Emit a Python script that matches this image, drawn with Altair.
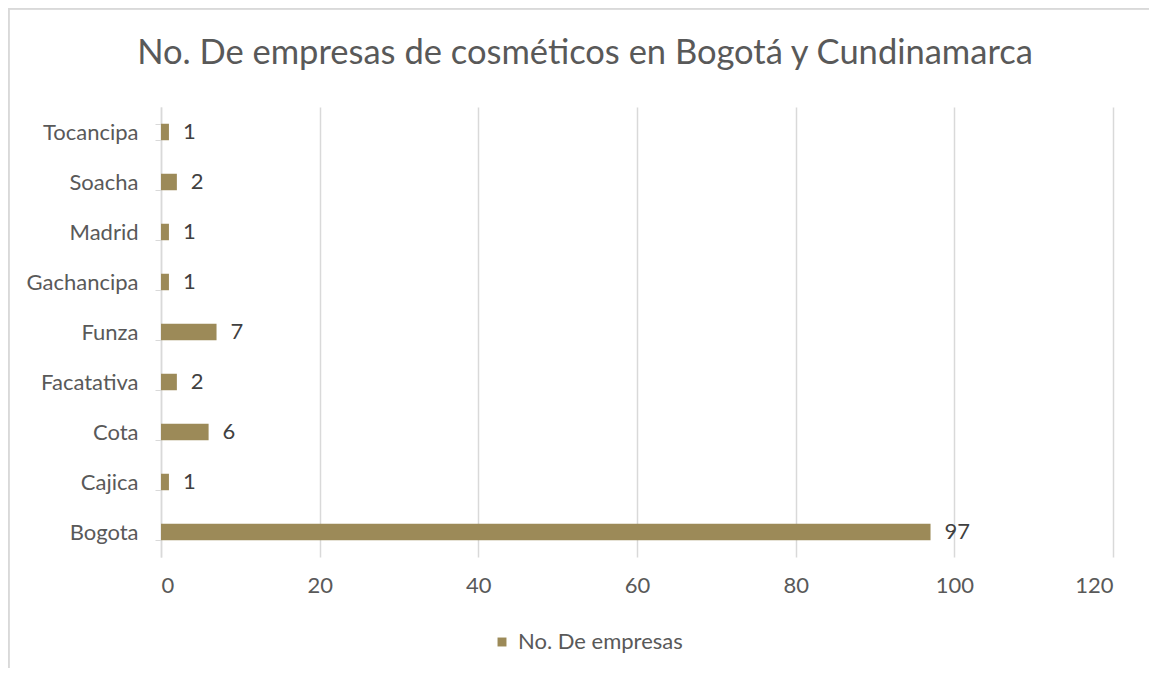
import altair as alt
import pandas as pd

categories = ["Tocancipa", "Soacha", "Madrid", "Gachancipa", "Funza",
              "Facatativa", "Cota", "Cajica", "Bogota"]
values = [1, 2, 1, 1, 7, 2, 6, 1, 97]
series_name = "No. De empresas"
x_ticks = [0, 20, 40, 60, 80, 100, 120]

df = pd.DataFrame({"Municipio": categories, "Empresas": values,
                   "Serie": [series_name] * len(categories)})

FONT = "Lato"
BAR = "#9C8A58"
FS = 22

y_enc = alt.Y("Municipio:N", sort=categories, title=None,
              scale=alt.Scale(paddingInner=0.67, paddingOuter=0.335),
              axis=alt.Axis(domainColor="#D9D9D9", domainWidth=1.5,
                            tickColor="#D9D9D9", tickSize=6, tickBand="extent",
                            labelFontSize=FS, labelColor="#595959", labelFont=FONT,
                            labelPadding=17, grid=False))

x_enc = alt.X("Empresas:Q", title=None,
              scale=alt.Scale(domain=[0, 120], nice=False),
              axis=alt.Axis(values=x_ticks, domain=False, ticks=False,
                            grid=True, gridColor="#D9D9D9", gridWidth=1.5,
                            labelFontSize=FS, labelColor="#595959", labelFont=FONT,
                            labelPadding=18))

bars = alt.Chart(df).mark_bar(stroke=None).encode(
    x=x_enc,
    y=y_enc,
    color=alt.Color("Serie:N", scale=alt.Scale(range=[BAR]),
                    legend=alt.Legend(title=None, orient="none", legendX=330, legendY=524,
                                      symbolType="square", symbolSize=80,
                                      symbolStrokeWidth=0, labelFontSize=FS,
                                      labelColor="#595959", labelFont=FONT,
                                      labelOffset=5, labelLimit=0, padding=0)),
)

labels = alt.Chart(df).mark_text(align="left", baseline="middle", dx=14,
                                 fontSize=FS, font=FONT, color="#404040").encode(
    x="Empresas:Q",
    y=alt.Y("Municipio:N", sort=categories),
    text="Empresas:Q",
)

border = alt.Chart(df).mark_rect(fill=None, stroke="#D9D9D9", strokeWidth=1.5,
                                 clip=False).encode(
    x=alt.value(-152.5), x2=alt.value(1100),
    y=alt.value(-98.5), y2=alt.value(700),
)

chart = alt.layer(border, bars, labels).properties(
    width=952, height=450,
    padding={"left": 153, "top": 99, "right": 36, "bottom": 111},
    autosize=alt.AutoSizeParams(type="none"),
    title=alt.TitleParams("No. De empresas de cosméticos en Bogotá y Cundinamarca",
                          fontSize=34.5, font=FONT, fontWeight="normal",
                          color="#595959", anchor="middle", dx=-52, offset=-64),
).configure_view(stroke=None)

chart.save("out.html", embed_options={"renderer": "svg", "actions": False})
